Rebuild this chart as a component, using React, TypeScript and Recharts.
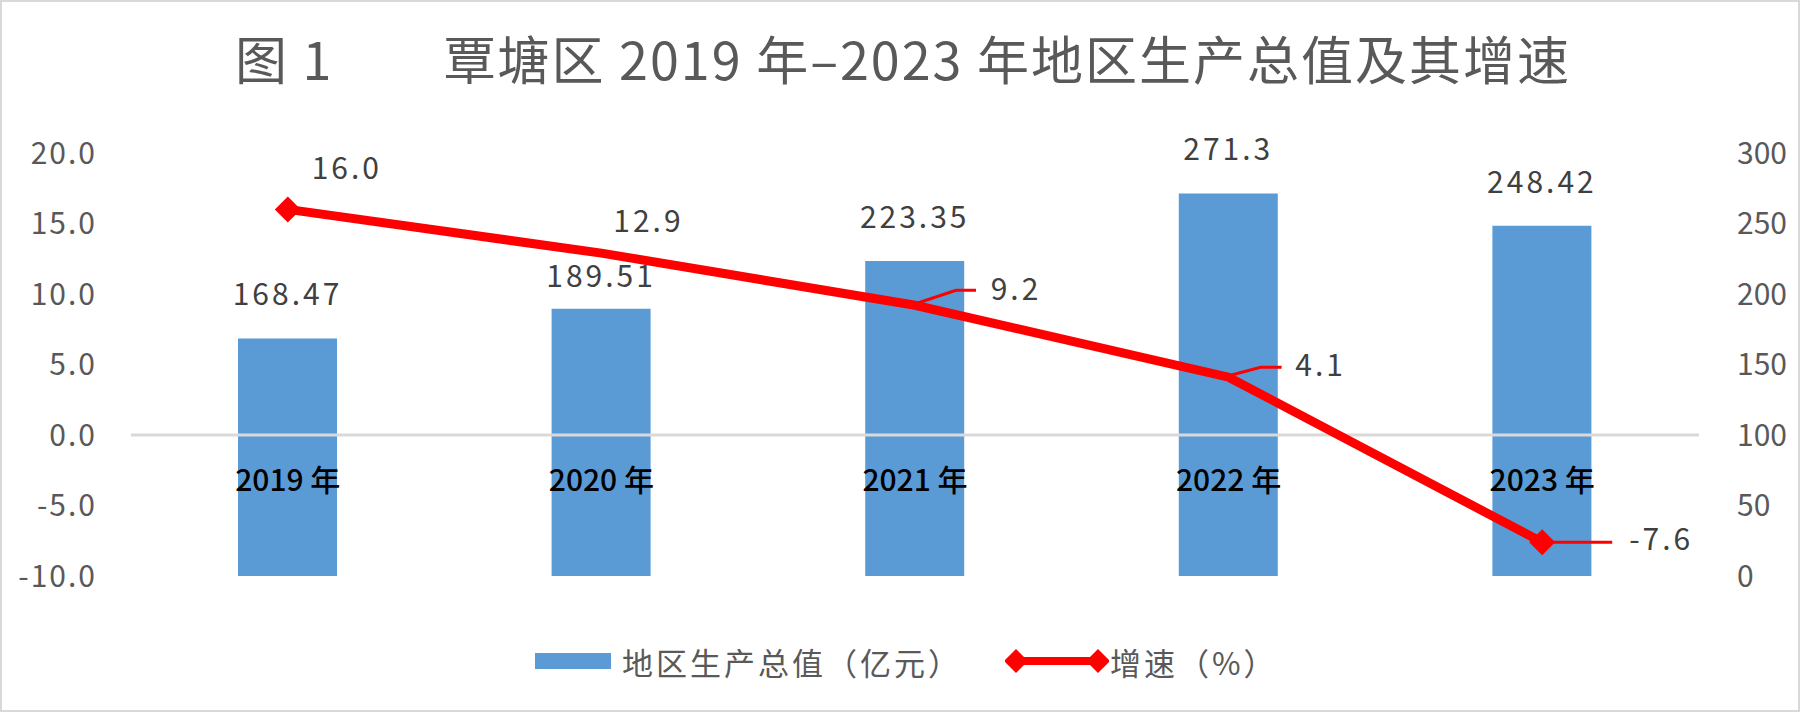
import { Bar, ComposedChart, LabelList, Line, ReferenceLine, XAxis, YAxis } from "recharts";

const years = ["2019 年", "2020 年", "2021 年", "2022 年", "2023 年"];
const gdpValues = [168.47, 189.51, 223.35, 271.3, 248.42];
const growthRates = [16.0, 12.9, 9.2, 4.1, -7.6];
const leftTicks = [-10, -5, 0, 5, 10, 15, 20];
const rightTicks = [0, 50, 100, 150, 200, 250, 300];

const rows = years.map((year, i) => ({ year, gdp: gdpValues[i], growth: growthRates[i] }));

const font = "'Noto Sans CJK SC', 'Noto Sans', sans-serif";
const grey = "#595959";
const labelGrey = "#404040";
const blue = "#5B9BD5";
const red = "#FF0000";

// label placement tweaks (excel labels were dragged by hand)
const barLabelLift = [46, 35, 46, 46, 46];
const growthLabelShift = [
  [59, -43],
  [47, -34],
  [101, -18],
  [92, -14],
  [119, -5],
];
const growthLeaders: (number[][] | null)[] = [
  null,
  null,
  [[2, -2], [41, -15], [61, -15]],
  [[2, -2], [32, -10], [53, -10]],
  [[0, 0], [70, 0]],
];

const diamond = (cx: number, cy: number, r: number) =>
  `M${cx},${cy - r}L${cx + r},${cy}L${cx},${cy + r}L${cx - r},${cy}Z`;

function YearTick(props: any) {
  const { x, y, payload } = props;
  return (
    <text x={x} y={y - 98} textAnchor="middle" dominantBaseline="central" fill="#000" fontSize={30} fontWeight={500} fontFamily={font}>
      {payload.value}
    </text>
  );
}

function GrowthDot(props: any) {
  const { cx, cy, index } = props;
  if (index !== 0 && index !== rows.length - 1) return <g key={`d${index}`} />;
  return <path key={`d${index}`} d={diamond(cx, cy, 13)} fill={red} />;
}

function GdpLabel(props: any) {
  const { x, y, width, value, index } = props;
  return (
    <text x={x + width / 2} y={y - barLabelLift[index]} textAnchor="middle" dominantBaseline="central" fill={labelGrey} fontSize={30} letterSpacing={3} fontFamily={font}>
      {value}
    </text>
  );
}

function GrowthLabel(props: any) {
  const { x, y, value, index } = props;
  const [dx, dy] = growthLabelShift[index];
  const leader = growthLeaders[index];
  return (
    <g>
      {leader && (
        <polyline points={leader.map(([a, b]) => `${x + a},${y + b}`).join(" ")} fill="none" stroke={red} strokeWidth={3} />
      )}
      <text x={x + dx} y={y + dy} textAnchor="middle" dominantBaseline="central" fill={labelGrey} fontSize={30} letterSpacing={3} fontFamily={font}>
        {Number(value).toFixed(1)}
      </text>
    </g>
  );
}

export default function App() {
  return (
    <div style={{ position: "absolute", left: 0, top: 0, width: 1806, height: 721, background: "#fff", fontFamily: font }}>
      <div style={{ position: "absolute", left: 0, top: 0, width: 1800, height: 712, border: "2px solid #d9d9d9", boxSizing: "border-box" }} />

      <div style={{ position: "absolute", left: 0, top: 30, width: 1806, textAlign: "center", color: grey, fontSize: 52, letterSpacing: 2, lineHeight: "56px", whiteSpace: "pre" }}>
        <span>图 1</span>
        <span style={{ display: "inline-block", width: 110 }} />
        <span>覃塘区 2019 年–2023 年地区生产总值及其增速</span>
      </div>

      <div style={{ position: "absolute", left: 0, top: 0 }}>
        <ComposedChart width={1806} height={721} data={rows} margin={{ top: 153, right: 0, bottom: 0, left: 0 }} barSize={99}>
          <XAxis dataKey="year" height={145} axisLine={false} tickLine={false} tickSize={0} tickMargin={0} interval={0} tick={<YearTick />} />
          <YAxis
            yAxisId="left"
            orientation="left"
            width={131}
            domain={[-10, 20]}
            ticks={leftTicks}
            tickFormatter={(v: number) => v.toFixed(1)}
            axisLine={false}
            tickLine={false}
            tickSize={0}
            tickMargin={34}
            tick={{ fill: grey, fontSize: 30, fontFamily: font, letterSpacing: 2 }}
          />
          <YAxis
            yAxisId="right"
            orientation="right"
            width={107}
            domain={[0, 300]}
            ticks={rightTicks}
            axisLine={false}
            tickLine={false}
            tickSize={0}
            tickMargin={38}
            tick={{ fill: grey, fontSize: 30, fontFamily: font }}
          />
          <Bar yAxisId="right" dataKey="gdp" fill={blue} isAnimationActive={false}>
            <LabelList dataKey="gdp" content={<GdpLabel />} />
          </Bar>
          <ReferenceLine yAxisId="left" y={0} stroke="#d9d9d9" strokeWidth={3} />
          <Line yAxisId="left" dataKey="growth" stroke={red} strokeWidth={9} dot={GrowthDot} activeDot={false} isAnimationActive={false}>
            <LabelList dataKey="growth" content={<GrowthLabel />} />
          </Line>
        </ComposedChart>
      </div>

      <div style={{ position: "absolute", left: 535, top: 641, height: 40, display: "flex", alignItems: "center", color: grey, fontSize: 31, letterSpacing: 3, whiteSpace: "nowrap" }}>
        <span style={{ display: "inline-block", width: 76, height: 16, background: blue }} />
        <span style={{ marginLeft: 11 }}>地区生产总值（亿元）</span>
        <svg width={104} height={28} style={{ marginLeft: 43 }}>
          <line x1={11} y1={14} x2={93} y2={14} stroke={red} strokeWidth={8} />
          <path d={diamond(11, 14, 12)} fill={red} />
          <path d={diamond(93, 14, 12)} fill={red} />
        </svg>
        <span style={{ marginLeft: 1 }}>增速（%）</span>
      </div>
    </div>
  );
}
